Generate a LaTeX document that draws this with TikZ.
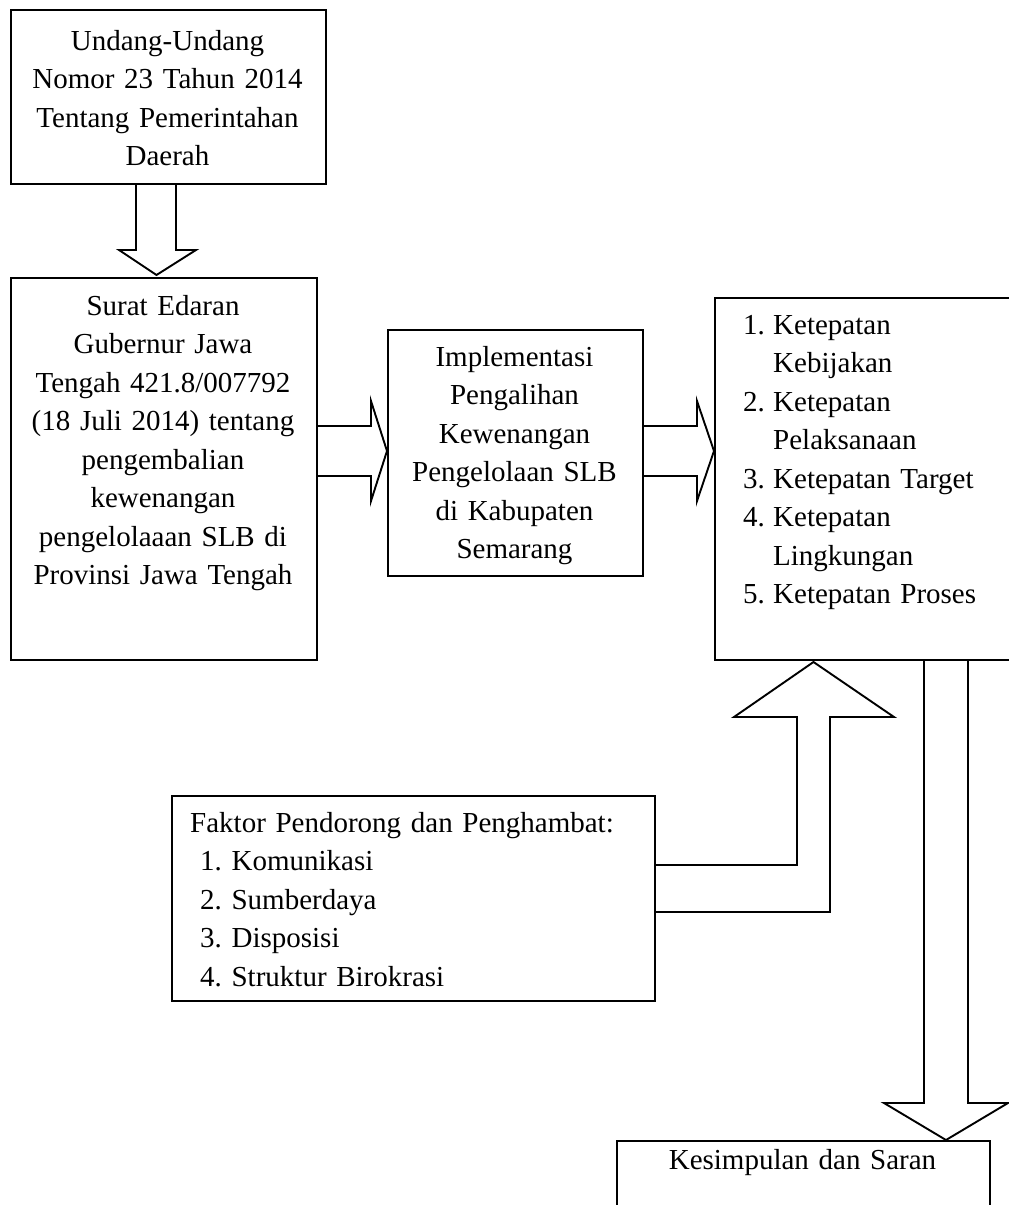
\documentclass[tikz,border=0pt]{standalone}
\usepackage{fontspec}
\setmainfont{Liberation Serif}
\begin{document}
\frenchspacing
\begin{tikzpicture}[x=1pt,y=-1pt,
  box/.style={draw=black,line width=1.9pt,rectangle,inner sep=0pt,anchor=north west},
  arr/.style={draw=black,line width=1.9pt,line join=miter},
  txt/.style={inner sep=0pt,font=\fontsize{29}{38.5}\selectfont\frenchspacing,text width=420pt,align=center,anchor=base},
  ltxt/.style={inner sep=0pt,font=\fontsize{29}{38.5}\selectfont\frenchspacing,text width=460pt,align=left,anchor=base west}]
\useasboundingbox (0,0) rectangle (1009,1205);
\clip (0,0) rectangle (1009,1205);
% boxes
\node[box,minimum width=315pt,minimum height=174pt] (b1) at (10,9) {};
\node[box,minimum width=306pt,minimum height=382pt] (b2) at (10,277) {};
\node[box,minimum width=255pt,minimum height=246pt] (b3) at (387,329) {};
\node[box,minimum width=320pt,minimum height=362pt] (b4) at (714,297) {};
\node[box,minimum width=483pt,minimum height=205pt] (b5) at (171,795) {};
\node[box,minimum width=373pt,minimum height=90pt] (b6) at (616,1140) {};
% texts
\node[txt] (t1) at (167.5,50) {Undang-Undang\\Nomor 23 Tahun 2014\\Tentang Pemerintahan\\Daerah};
\node[txt] (t2) at (163,315) {Surat Edaran\\Gubernur Jawa\\Tengah 421.8/007792\\(18 Juli 2014) tentang\\pengembalian\\kewenangan\\pengelolaaan SLB di\\Provinsi Jawa Tengah};
\node[txt] (t3) at (514.5,366) {Implementasi\\Pengalihan\\Kewenangan\\Pengelolaan SLB\\di Kabupaten\\Semarang};
\node[ltxt,text width=280pt] (t4) at (743,334) {\makebox[30pt][l]{1.}Ketepatan\\\hspace*{30pt}Kebijakan\\\makebox[30pt][l]{2.}Ketepatan\\\hspace*{30pt}Pelaksanaan\\\makebox[30pt][l]{3.}Ketepatan Target\\\makebox[30pt][l]{4.}Ketepatan\\\hspace*{30pt}Lingkungan\\\makebox[30pt][l]{5.}Ketepatan Proses};
\node[ltxt] (t5) at (190,832) {Faktor Pendorong dan Penghambat:\\\hspace*{10pt}1. Komunikasi\\\hspace*{10pt}2. Sumberdaya\\\hspace*{10pt}3. Disposisi\\\hspace*{10pt}4. Struktur Birokrasi};
\node[txt] (t6) at (802.5,1169) {Kesimpulan dan Saran};
% block arrows
\draw[arr] (136,0 |- b1.south) -- (136,250) -- (119,250) -- (156.5,275) -- (196,250) -- (176,250) -- (176,0 |- b1.south);
\draw[arr] (b2.east |- 0,426) -- (371,426) -- (371,401) -- (b3.west |- 0,451) -- (371,501) -- (371,476) -- (b2.east |- 0,476);
\draw[arr] (b3.east |- 0,426) -- (697,426) -- (697,401) -- (b4.west |- 0,451) -- (697,501) -- (697,476) -- (b3.east |- 0,476);
\draw[arr] (b5.east |- 0,865) -- (797,865) -- (797,717) -- (734,717) -- (813.5,662) -- (894,717) -- (830,717) -- (830,912) -- (b5.east |- 0,912);
\draw[arr] (924,0 |- b4.south) -- (924,1103) -- (884,1103) -- (946,0 |- b6.north) -- (1008,1103) -- (968,1103) -- (968,0 |- b4.south);
\end{tikzpicture}
\end{document}
